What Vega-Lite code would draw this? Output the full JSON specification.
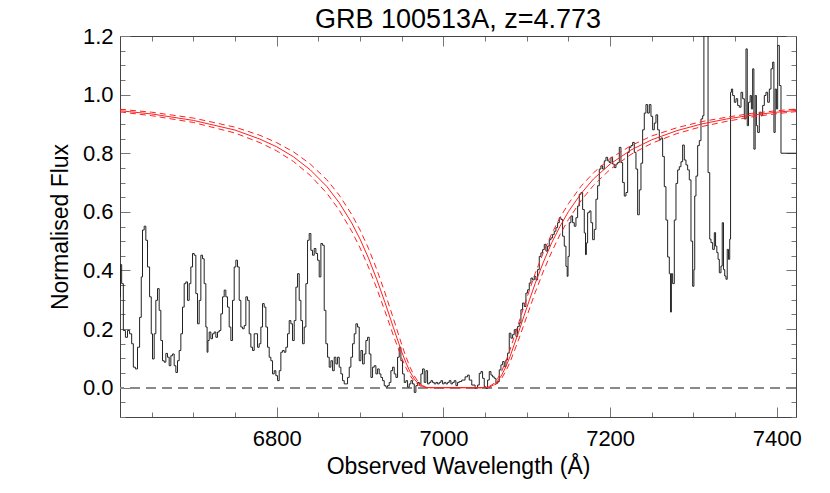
{
  "$schema": "https://vega.github.io/schema/vega-lite/v6.json",
  "width": 676,
  "height": 381,
  "autosize": "none",
  "padding": {"left": 120, "top": 36, "right": 34, "bottom": 76},
  "background": "white",
  "config": {"view": {"stroke": null}, "font": "Liberation Sans"},
  "title": {"text": "GRB 100513A, z=4.773", "fontSize": 27, "fontWeight": "normal", "font": "Liberation Sans", "color": "#000", "offset": -9, "anchor": "middle"},
  "datasets": {
    "spec": [
      {"w":6612,"f":0.31},{"w":6613,"f":0.42},{"w":6615,"f":0.355},{"w":6617,"f":0.195},{"w":6620,"f":0.172},{"w":6622,"f":0.195},{"w":6625,"f":0.184},{"w":6627,"f":0.15},{"w":6629,"f":0.07},{"w":6632,"f":0.064},{"w":6634,"f":0.138},{"w":6637,"f":0.24},{"w":6638,"f":0.378},{"w":6640,"f":0.538},{"w":6642,"f":0.551},{"w":6644,"f":0.503},{"w":6646,"f":0.412},{"w":6649,"f":0.31},{"w":6650,"f":0.184},{"w":6652,"f":0.098},{"w":6654,"f":0.184},{"w":6656,"f":0.298},{"w":6658,"f":0.338},{"w":6660,"f":0.264},{"w":6662,"f":0.161},{"w":6664,"f":0.092},{"w":6666,"f":0.087},{"w":6668,"f":0.117},{"w":6670,"f":0.104},{"w":6672,"f":0.075},{"w":6674,"f":0.109},{"w":6676,"f":0.115},{"w":6678,"f":0.075},{"w":6680,"f":0.052},{"w":6682,"f":0.092},{"w":6684,"f":0.127},{"w":6686,"f":0.184},{"w":6688,"f":0.275},{"w":6690,"f":0.355},{"w":6692,"f":0.361},{"w":6694,"f":0.298},{"w":6696,"f":0.355},{"w":6698,"f":0.412},{"w":6700,"f":0.458},{"w":6702,"f":0.452},{"w":6704,"f":0.321},{"w":6706,"f":0.218},{"w":6708,"f":0.298},{"w":6710,"f":0.452},{"w":6712,"f":0.44},{"w":6714,"f":0.355},{"w":6716,"f":0.207},{"w":6717,"f":0.121},{"w":6718,"f":0.161},{"w":6720,"f":0.19},{"w":6722,"f":0.167},{"w":6724,"f":0.184},{"w":6726,"f":0.19},{"w":6728,"f":0.172},{"w":6730,"f":0.19},{"w":6732,"f":0.195},{"w":6734,"f":0.252},{"w":6736,"f":0.31},{"w":6738,"f":0.333},{"w":6740,"f":0.31},{"w":6742,"f":0.275},{"w":6744,"f":0.207},{"w":6746,"f":0.161},{"w":6748,"f":0.298},{"w":6750,"f":0.412},{"w":6752,"f":0.435},{"w":6754,"f":0.412},{"w":6756,"f":0.298},{"w":6758,"f":0.207},{"w":6760,"f":0.201},{"w":6762,"f":0.212},{"w":6764,"f":0.31},{"w":6766,"f":0.298},{"w":6768,"f":0.184},{"w":6770,"f":0.138},{"w":6772,"f":0.127},{"w":6774,"f":0.184},{"w":6776,"f":0.184},{"w":6778,"f":0.138},{"w":6780,"f":0.15},{"w":6782,"f":0.207},{"w":6784,"f":0.287},{"w":6786,"f":0.275},{"w":6788,"f":0.207},{"w":6790,"f":0.138},{"w":6792,"f":0.104},{"w":6794,"f":0.092},{"w":6796,"f":0.047},{"w":6798,"f":0.058},{"w":6800,"f":0.041},{"w":6802,"f":0.024},{"w":6804,"f":0.058},{"w":6806,"f":0.121},{"w":6808,"f":0.127},{"w":6810,"f":0.121},{"w":6812,"f":0.138},{"w":6814,"f":0.184},{"w":6816,"f":0.229},
      {"w":6818,"f":0.218},{"w":6820,"f":0.161},{"w":6822,"f":0.229},{"w":6824,"f":0.343},{"w":6826,"f":0.389},{"w":6828,"f":0.298},{"w":6830,"f":0.229},{"w":6832,"f":0.15},{"w":6834,"f":0.207},{"w":6836,"f":0.355},{"w":6838,"f":0.503},{"w":6840,"f":0.526},{"w":6842,"f":0.469},{"w":6844,"f":0.452},{"w":6846,"f":0.475},{"w":6848,"f":0.458},{"w":6850,"f":0.435},{"w":6852,"f":0.378},{"w":6854,"f":0.492},{"w":6856,"f":0.486},{"w":6858,"f":0.264},{"w":6860,"f":0.15},{"w":6862,"f":0.104},{"w":6864,"f":0.07},{"w":6866,"f":0.092},{"w":6868,"f":0.058},{"w":6870,"f":0.104},{"w":6872,"f":0.081},{"w":6874,"f":0.104},{"w":6876,"f":0.07},{"w":6878,"f":0.047},{"w":6880,"f":0.024},{"w":6882,"f":0.013},{"w":6884,"f":0.013},{"w":6886,"f":0.035},{"w":6888,"f":0.07},{"w":6890,"f":0.104},{"w":6892,"f":0.15},{"w":6894,"f":0.184},{"w":6896,"f":0.218},{"w":6898,"f":0.207},{"w":6900,"f":0.092},{"w":6902,"f":0.127},{"w":6904,"f":0.081},{"w":6906,"f":0.115},{"w":6908,"f":0.161},{"w":6910,"f":0.172},{"w":6912,"f":0.115},{"w":6914,"f":0.035},{"w":6916,"f":0.07},{"w":6918,"f":0.075},{"w":6920,"f":0.047},{"w":6922,"f":0.064},{"w":6924,"f":0.047},{"w":6926,"f":0.035},{"w":6928,"f":0.024},{"w":6930,"f":0.007},{"w":6932,"f":0.002},{"w":6934,"f":0.007},{"w":6936,"f":0.018},{"w":6938,"f":0.058},{"w":6940,"f":0.07},{"w":6942,"f":0.047},{"w":6944,"f":0.035},{"w":6946,"f":0.104},{"w":6948,"f":0.138},{"w":6950,"f":0.092},{"w":6952,"f":0.047},{"w":6954,"f":0.018},{"w":6956,"f":0.024},{"w":6958,"f":0.002},{"w":6960,"f":0.013},{"w":6962,"f":0.024},{"w":6964,"f":0.013},{"w":6966,"f":-0.016},{"w":6968,"f":0.007},{"w":6970,"f":0.018},{"w":6972,"f":0.013},{"w":6974,"f":0.047},{"w":6976,"f":0.064},{"w":6978,"f":0.018},{"w":6980,"f":0.058},{"w":6982,"f":0.013},{"w":6984,"f":0.018},{"w":6986,"f":0.024},{"w":6988,"f":0.018},{"w":6990,"f":0.013},{"w":6992,"f":0.018},{"w":6994,"f":0.013},{"w":6996,"f":0.018},{"w":6998,"f":0.024},{"w":7000,"f":0.013},{"w":7002,"f":0.018},{"w":7004,"f":0.013},{"w":7006,"f":0.018},{"w":7008,"f":0.024},{"w":7010,"f":0.013},{"w":7012,"f":0.018},{"w":7014,"f":0.024},{"w":7016,"f":0.007},{"w":7018,"f":0.018},{"w":7020,"f":0.021},
      {"w":7024,"f":0.026},{"w":7028,"f":0.037},{"w":7030,"f":0.043},{"w":7032,"f":0.026},{"w":7036,"f":0.009},{"w":7040,"f":-0.002},{"w":7042,"f":0.009},{"w":7044,"f":0.049},{"w":7046,"f":0.055},{"w":7048,"f":0.032},{"w":7050,"f":0.003},{"w":7052,"f":-0.002},{"w":7054,"f":0.026},{"w":7056,"f":0.055},{"w":7058,"f":0.043},{"w":7060,"f":0.037},{"w":7062,"f":0.032},{"w":7064,"f":0.015},{"w":7066,"f":0.021},{"w":7068,"f":0.061},{"w":7070,"f":0.078},{"w":7072,"f":0.089},{"w":7074,"f":0.072},{"w":7076,"f":0.095},{"w":7078,"f":0.118},{"w":7080,"f":0.186},{"w":7082,"f":0.169},{"w":7084,"f":0.181},{"w":7086,"f":0.198},{"w":7088,"f":0.175},{"w":7090,"f":0.209},{"w":7092,"f":0.221},{"w":7094,"f":0.266},{"w":7096,"f":0.289},{"w":7098,"f":0.277},{"w":7100,"f":0.323},{"w":7102,"f":0.334},{"w":7104,"f":0.357},{"w":7106,"f":0.374},{"w":7108,"f":0.368},{"w":7110,"f":0.38},{"w":7112,"f":0.368},{"w":7114,"f":0.403},{"w":7116,"f":0.448},{"w":7118,"f":0.46},{"w":7120,"f":0.471},{"w":7122,"f":0.489},{"w":7124,"f":0.466},{"w":7126,"f":0.483},{"w":7128,"f":0.505},{"w":7130,"f":0.511},{"w":7132,"f":0.523},{"w":7134,"f":0.534},{"w":7136,"f":0.546},{"w":7138,"f":0.563},{"w":7140,"f":0.58},{"w":7142,"f":0.574},{"w":7144,"f":0.517},{"w":7146,"f":0.483},{"w":7148,"f":0.414},{"w":7149,"f":0.38},{"w":7150,"f":0.448},{"w":7152,"f":0.563},{"w":7154,"f":0.586},{"w":7156,"f":0.563},{"w":7158,"f":0.551},{"w":7160,"f":0.58},{"w":7162,"f":0.62},{"w":7164,"f":0.66},{"w":7166,"f":0.666},{"w":7168,"f":0.608},{"w":7170,"f":0.528},{"w":7171,"f":0.454},{"w":7172,"f":0.494},{"w":7174,"f":0.597},{"w":7176,"f":0.603},{"w":7178,"f":0.563},{"w":7180,"f":0.505},{"w":7182,"f":0.54},{"w":7184,"f":0.643},{"w":7186,"f":0.689},{"w":7188,"f":0.746},{"w":7190,"f":0.757},{"w":7192,"f":0.746},{"w":7194,"f":0.774},{"w":7196,"f":0.786},{"w":7198,"f":0.774},{"w":7200,"f":0.768},{"w":7202,"f":0.786},{"w":7204,"f":0.763},{"w":7206,"f":0.751},{"w":7208,"f":0.763},{"w":7210,"f":0.768},{"w":7212,"f":0.82},{"w":7214,"f":0.768},{"w":7216,"f":0.7},{"w":7218,"f":0.654},{"w":7220,"f":0.666},{"w":7222,"f":0.803},{"w":7224,"f":0.82},{"w":7226,"f":0.826},{"w":7228,"f":0.837},{"w":7230,"f":0.803},{"w":7232,"f":0.746},
      {"w":7234,"f":0.59},{"w":7236,"f":0.675},{"w":7238,"f":0.766},{"w":7240,"f":0.88},{"w":7242,"f":0.937},{"w":7244,"f":0.966},{"w":7246,"f":0.937},{"w":7248,"f":0.966},{"w":7250,"f":0.926},{"w":7252,"f":0.88},{"w":7254,"f":0.903},{"w":7256,"f":0.931},{"w":7258,"f":0.88},{"w":7260,"f":0.846},{"w":7262,"f":0.852},{"w":7264,"f":0.789},{"w":7266,"f":0.686},{"w":7268,"f":0.572},{"w":7270,"f":0.446},{"w":7272,"f":0.389},{"w":7273,"f":0.258},{"w":7274,"f":0.389},{"w":7276,"f":0.355},{"w":7278,"f":0.572},{"w":7280,"f":0.697},{"w":7282,"f":0.743},{"w":7284,"f":0.754},{"w":7286,"f":0.771},{"w":7288,"f":0.828},{"w":7290,"f":0.777},{"w":7292,"f":0.76},{"w":7294,"f":0.743},{"w":7296,"f":0.709},{"w":7298,"f":0.5},{"w":7300,"f":0.346},{"w":7301,"f":0.403},{"w":7302,"f":0.654},{"w":7304,"f":0.722},{"w":7306,"f":0.826},{"w":7308,"f":0.843},{"w":7310,"f":0.917},{"w":7312,"f":0.928},{"w":7313,"f":1.5},{"w":7316,"f":1.6},{"w":7319,"f":0.734},{"w":7320,"f":0.507},{"w":7322,"f":0.495},{"w":7324,"f":0.472},{"w":7326,"f":0.529},{"w":7327,"f":0.483},{"w":7329,"f":0.461},{"w":7330,"f":0.438},{"w":7332,"f":0.392},{"w":7334,"f":0.415},{"w":7335,"f":0.563},{"w":7337,"f":0.403},{"w":7338,"f":0.381},{"w":7340,"f":0.37},{"w":7341,"f":0.472},{"w":7343,"f":0.438},{"w":7344,"f":0.507},{"w":7345,"f":1.008},{"w":7346,"f":1.019},{"w":7348,"f":0.997},{"w":7350,"f":0.974},{"w":7352,"f":0.986},{"w":7354,"f":0.963},{"w":7356,"f":0.957},{"w":7358,"f":1.008},{"w":7360,"f":0.986},{"w":7362,"f":0.917},{"w":7364,"f":1.156},{"w":7365,"f":0.894},{"w":7367,"f":0.974},{"w":7369,"f":0.997},{"w":7370,"f":0.951},{"w":7372,"f":1.088},{"w":7373,"f":0.814},{"w":7375,"f":0.997},{"w":7376,"f":0.894},{"w":7378,"f":0.871},{"w":7380,"f":0.94},{"w":7382,"f":0.928},{"w":7384,"f":0.963},{"w":7386,"f":0.997},{"w":7388,"f":1.008},{"w":7390,"f":0.974},{"w":7392,"f":1.019},{"w":7394,"f":1.088},{"w":7396,"f":1.111},{"w":7397,"f":0.871},{"w":7399,"f":1.019},{"w":7400,"f":0.951},{"w":7402,"f":1.168},{"w":7404,"f":1.031},{"w":7406,"f":0.8},{"w":7423,"f":0.8}
    ],
    "model": [
      {"w":6612,"f":0.945},{"w":6650,"f":0.934},{"w":6700,"f":0.912},{"w":6750,"f":0.879},{"w":6780,"f":0.848},{"w":6800,"f":0.822},{"w":6820,"f":0.788},{"w":6840,"f":0.744},{"w":6860,"f":0.687},{"w":6875,"f":0.631},{"w":6890,"f":0.562},{"w":6900,"f":0.507},{"w":6910,"f":0.443},{"w":6920,"f":0.37},{"w":6930,"f":0.29},{"w":6940,"f":0.205},{"w":6950,"f":0.122},{"w":6955,"f":0.0855},{"w":6960,"f":0.054},{"w":6965,"f":0.0297},{"w":6970,"f":0.0132},{"w":6975,"f":0.0043},{"w":6980,"f":0.0009},{"w":6985,"f":0},{"w":7045,"f":0},{"w":7050,"f":0.0004},{"w":7055,"f":0.0024},{"w":7060,"f":0.0088},{"w":7065,"f":0.0221},{"w":7070,"f":0.0434},{"w":7075,"f":0.0722},{"w":7080,"f":0.107},{"w":7090,"f":0.188},{"w":7100,"f":0.273},{"w":7110,"f":0.355},{"w":7120,"f":0.429},{"w":7130,"f":0.495},{"w":7140,"f":0.551},{"w":7150,"f":0.601},{"w":7165,"f":0.662},{"w":7180,"f":0.712},{"w":7200,"f":0.763},{"w":7225,"f":0.811},{"w":7250,"f":0.846},{"w":7280,"f":0.877},{"w":7310,"f":0.9},{"w":7340,"f":0.917},{"w":7370,"f":0.93},{"w":7400,"f":0.94},{"w":7423,"f":0.946}
    ],
    "bounds": [
      {"s":"hi","w":6612,"f":0.95},{"s":"hi","w":6650,"f":0.94},{"s":"hi","w":6700,"f":0.92},{"s":"hi","w":6750,"f":0.889},{"s":"hi","w":6780,"f":0.861},{"s":"hi","w":6800,"f":0.836},{"s":"hi","w":6820,"f":0.805},{"s":"hi","w":6840,"f":0.764},{"s":"hi","w":6860,"f":0.71},{"s":"hi","w":6875,"f":0.657},{"s":"hi","w":6890,"f":0.591},{"s":"hi","w":6900,"f":0.538},{"s":"hi","w":6910,"f":0.476},{"s":"hi","w":6920,"f":0.404},{"s":"hi","w":6930,"f":0.323},{"s":"hi","w":6940,"f":0.236},{"s":"hi","w":6950,"f":0.147},{"s":"hi","w":6955,"f":0.106},{"s":"hi","w":6960,"f":0.0697},{"s":"hi","w":6965,"f":0.0403},{"s":"hi","w":6970,"f":0.0193},{"s":"hi","w":6975,"f":0.007},{"s":"hi","w":6980,"f":0.0016},{"s":"hi","w":6985,"f":0.0002},{"s":"hi","w":7045,"f":0},{"s":"hi","w":7050,"f":0.0007},{"s":"hi","w":7055,"f":0.0041},{"s":"hi","w":7060,"f":0.0133},{"s":"hi","w":7065,"f":0.0309},{"s":"hi","w":7070,"f":0.057},{"s":"hi","w":7075,"f":0.0908},{"s":"hi","w":7080,"f":0.13},{"s":"hi","w":7090,"f":0.218},{"s":"hi","w":7100,"f":0.306},{"s":"hi","w":7110,"f":0.389},{"s":"hi","w":7120,"f":0.462},{"s":"hi","w":7130,"f":0.526},{"s":"hi","w":7140,"f":0.581},{"s":"hi","w":7150,"f":0.628},{"s":"hi","w":7165,"f":0.687},{"s":"hi","w":7180,"f":0.733},{"s":"hi","w":7200,"f":0.782},{"s":"hi","w":7225,"f":0.826},{"s":"hi","w":7250,"f":0.859},{"s":"hi","w":7280,"f":0.887},{"s":"hi","w":7310,"f":0.908},{"s":"hi","w":7340,"f":0.923},{"s":"hi","w":7370,"f":0.936},{"s":"hi","w":7400,"f":0.945},{"s":"hi","w":7423,"f":0.951},
      {"s":"lo","w":6612,"f":0.941},{"s":"lo","w":6650,"f":0.928},{"s":"lo","w":6700,"f":0.905},{"s":"lo","w":6750,"f":0.869},{"s":"lo","w":6780,"f":0.836},{"s":"lo","w":6800,"f":0.808},{"s":"lo","w":6820,"f":0.772},{"s":"lo","w":6840,"f":0.725},{"s":"lo","w":6860,"f":0.664},{"s":"lo","w":6875,"f":0.606},{"s":"lo","w":6890,"f":0.534},{"s":"lo","w":6900,"f":0.477},{"s":"lo","w":6910,"f":0.412},{"s":"lo","w":6920,"f":0.339},{"s":"lo","w":6930,"f":0.26},{"s":"lo","w":6940,"f":0.178},{"s":"lo","w":6950,"f":0.101},{"s":"lo","w":6955,"f":0.0686},{"s":"lo","w":6960,"f":0.0416},{"s":"lo","w":6965,"f":0.0216},{"s":"lo","w":6970,"f":0.009},{"s":"lo","w":6975,"f":0.0027},{"s":"lo","w":6980,"f":0.0005},{"s":"lo","w":6985,"f":0},{"s":"lo","w":7050,"f":0},{"s":"lo","w":7055,"f":0.0014},{"s":"lo","w":7060,"f":0.0058},{"s":"lo","w":7065,"f":0.0157},{"s":"lo","w":7070,"f":0.0327},{"s":"lo","w":7075,"f":0.057},{"s":"lo","w":7080,"f":0.0877},{"s":"lo","w":7090,"f":0.162},{"s":"lo","w":7100,"f":0.243},{"s":"lo","w":7110,"f":0.324},{"s":"lo","w":7120,"f":0.398},{"s":"lo","w":7130,"f":0.464},{"s":"lo","w":7140,"f":0.523},{"s":"lo","w":7150,"f":0.574},{"s":"lo","w":7165,"f":0.638},{"s":"lo","w":7180,"f":0.69},{"s":"lo","w":7200,"f":0.745},{"s":"lo","w":7225,"f":0.796},{"s":"lo","w":7250,"f":0.834},{"s":"lo","w":7280,"f":0.867},{"s":"lo","w":7310,"f":0.891},{"s":"lo","w":7340,"f":0.909},{"s":"lo","w":7370,"f":0.924},{"s":"lo","w":7400,"f":0.935},{"s":"lo","w":7423,"f":0.942}
    ]
  },
  "resolve": {"axis": {"x": "independent", "y": "independent"}},
  "layer": [
    {
      "data": {"name": "spec"},
      "mark": {"type": "rule", "color": "#888888", "strokeWidth": 1, "strokeDash": [10, 6]},
      "encoding": {"y": {"datum": 0, "type": "quantitative", "scale": {"domain": [-0.1, 1.2], "nice": false, "zero": false}, "axis": null}}
    },
    {
      "data": {"name": "spec"},
      "mark": {"type": "line", "interpolate": "step", "color": "#222222", "strokeWidth": 1, "clip": true},
      "encoding": {
        "x": {"field": "w", "type": "quantitative", "scale": {"domain": [6612, 7423], "nice": false, "zero": false},
          "axis": {"orient": "bottom", "values": [6650,6700,6750,6800,6850,6900,6950,7000,7050,7100,7150,7200,7250,7300,7350,7400],
            "labelExpr": "datum.value % 200 == 0 ? format(datum.value, 'd') : ''",
            "tickSize": {"condition": {"test": "datum.value % 200 == 0", "value": -10}, "value": -5},
            "labelPadding": 21, "labelFontSize": 22, "labelColor": "#000", "labelFont": "Liberation Sans",
            "labelBaseline": "top", "labelFlush": false, "labelOverlap": false,
            "title": "Observed Wavelength (Å)", "titleFontSize": 23, "titleFontWeight": "normal", "titleColor": "#000", "titleFont": "Liberation Sans", "titlePadding": 1,
            "domainColor": "#444444", "tickColor": "#777777", "grid": false}},
        "y": {"field": "f", "type": "quantitative", "scale": {"domain": [-0.1, 1.2], "nice": false, "zero": false},
          "axis": {"orient": "left", "values": [-0.1,-0.05,0,0.05,0.1,0.15,0.2,0.25,0.3,0.35,0.4,0.45,0.5,0.55,0.6,0.65,0.7,0.75,0.8,0.85,0.9,0.95,1.0,1.05,1.1,1.15,1.2],
            "labelExpr": "abs(round(datum.value*100)) % 20 == 0 ? format(datum.value, '.1f') : ''",
            "tickSize": {"condition": {"test": "abs(round(datum.value*100)) % 20 == 0", "value": -10}, "value": -5},
            "labelPadding": 17, "labelFontSize": 22, "labelColor": "#000", "labelFont": "Liberation Sans",
            "labelFlush": false, "labelOverlap": false,
            "title": "Normalised Flux", "titleFontSize": 23, "titleFontWeight": "normal", "titleColor": "#000", "titleFont": "Liberation Sans", "titlePadding": 10,
            "domainColor": "#444444", "tickColor": "#777777", "grid": false}}
      }
    },
    {
      "data": {"name": "model"},
      "mark": {"type": "line", "color": "#ff2020", "strokeWidth": 1, "clip": true},
      "encoding": {
        "x": {"field": "w", "type": "quantitative",
          "axis": {"orient": "top", "values": [6650,6700,6750,6800,6850,6900,6950,7000,7050,7100,7150,7200,7250,7300,7350,7400],
            "labels": false, "title": null,
            "tickSize": {"condition": {"test": "datum.value % 200 == 0", "value": -10}, "value": -5},
            "domainColor": "#444444", "tickColor": "#777777", "grid": false}},
        "y": {"field": "f", "type": "quantitative",
          "axis": {"orient": "right", "values": [-0.1,-0.05,0,0.05,0.1,0.15,0.2,0.25,0.3,0.35,0.4,0.45,0.5,0.55,0.6,0.65,0.7,0.75,0.8,0.85,0.9,0.95,1.0,1.05,1.1,1.15,1.2],
            "labels": false, "title": null,
            "tickSize": {"condition": {"test": "abs(round(datum.value*100)) % 20 == 0", "value": -10}, "value": -5},
            "domainColor": "#444444", "tickColor": "#777777", "grid": false}}
      }
    },
    {
      "data": {"name": "bounds"},
      "mark": {"type": "line", "color": "#ff2020", "strokeWidth": 1, "strokeDash": [6, 4], "clip": true},
      "encoding": {
        "x": {"field": "w", "type": "quantitative", "axis": null},
        "y": {"field": "f", "type": "quantitative", "axis": null},
        "detail": {"field": "s"}
      }
    }
  ]
}
